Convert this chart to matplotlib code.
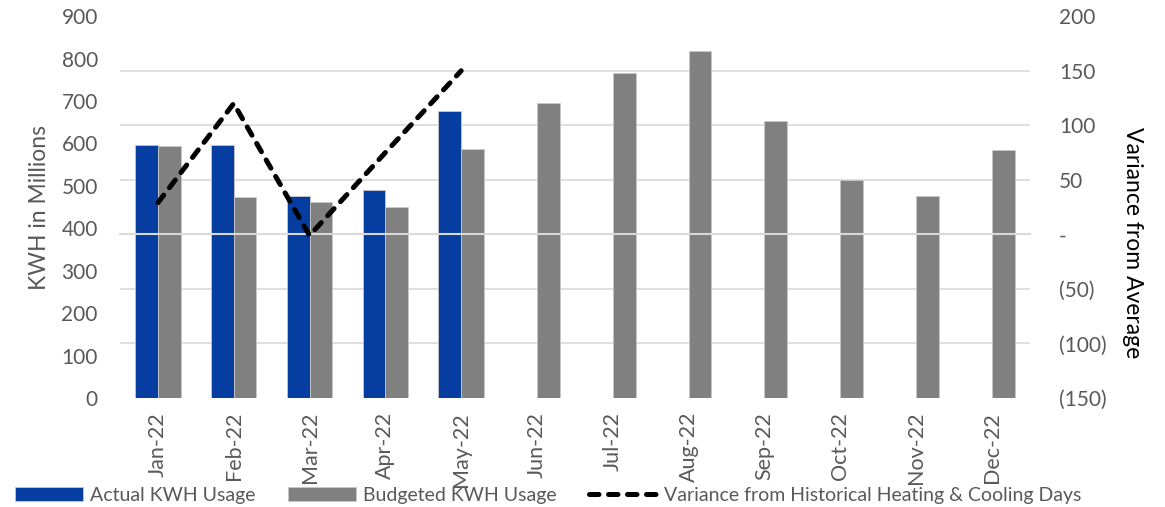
import numpy as np
import matplotlib.pyplot as plt
from matplotlib.ticker import FixedLocator, FuncFormatter

# data
months = ["Jan-22", "Feb-22", "Mar-22", "Apr-22", "May-22", "Jun-22",
          "Jul-22", "Aug-22", "Sep-22", "Oct-22", "Nov-22", "Dec-22"]
actual_kwh = [597, 596, 477, 490, 676]
budget_kwh = [594, 473, 463, 450, 586, 696, 766, 817, 652, 514, 477, 584]
variance = [29, 120, -1, 75, 150]

blue = "#063DA1"
gray = "#808080"
txt = "#595959"

plt.rcParams["font.family"] = ["Lato", "DejaVu Sans"]

fig, ax = plt.subplots(figsize=(11.65, 5.07), dpi=100)
fig.subplots_adjust(left=0.103, right=0.884, top=0.968, bottom=0.215)

x = np.arange(len(months))
w = 0.3
ax.bar(x[:len(actual_kwh)] - w / 2, actual_kwh, w, color=blue,
       edgecolor="#c8c8c8", linewidth=0.6, label="Actual KWH Usage", zorder=2)
ax.bar(x + w / 2, budget_kwh, w, color=gray,
       edgecolor="#c8c8c8", linewidth=0.6, label="Budgeted KWH Usage", zorder=2)

ax.set_xlim(-0.5, len(months) - 0.5)
ax.set_ylim(0, 900)
ax.set_yticks(np.arange(0, 901, 100))
ax.tick_params(axis="y", length=0, pad=16, labelsize=15, labelcolor=txt)
ax.set_xticks(x)
ax.set_xticklabels(months, rotation=90)
ax.tick_params(axis="x", length=0, pad=10, labelsize=15.5, labelcolor=txt)
# gridlines follow the secondary axis steps
ax.yaxis.set_minor_locator(FixedLocator(np.linspace(0, 900, 8)))
ax.tick_params(axis="y", which="minor", length=0)
ax.grid(axis="y", which="minor", color="#d9d9d9", linewidth=1.2, zorder=0)
ax.set_axisbelow(True)
for s in ax.spines.values():
    s.set_visible(False)
ax.set_ylabel("KWH in Millions", fontsize=16.5, color=txt, va="center")
ax.yaxis.set_label_coords(-0.088, 0.5)

ax2 = ax.twinx()
ax2.plot(x[:len(variance)], variance, color="black", linewidth=3.6,
         linestyle=(0, (1.9, 1.9)), dash_capstyle="round",
         label="Variance from Historical Heating & Cooling Days", zorder=4)
ax2.set_ylim(-150, 200)
ax2.set_yticks(np.arange(-150, 201, 50))


def fmt(v, pos):
    if v == 0:
        return "-"
    if v < 0:
        return f"({abs(int(v))})"
    return f"{int(v)}"


ax2.yaxis.set_major_formatter(FuncFormatter(fmt))
ax2.tick_params(axis="y", length=0, pad=21, labelsize=15, labelcolor=txt)
for side in ["top", "left", "right"]:
    ax2.spines[side].set_visible(False)
ax2.spines["bottom"].set_position(("data", 0))
ax2.spines["bottom"].set_color("#d9d9d9")
ax2.spines["bottom"].set_linewidth(1.5)
ax2.xaxis.set_minor_locator(FixedLocator(np.arange(-0.5, len(months), 1.0)))
ax2.tick_params(axis="x", which="minor", length=5, width=1.2, color="#d9d9d9",
                direction="out")
ax2.tick_params(axis="x", which="major", length=0, labelbottom=False)
ax.tick_params(axis="x", which="minor", length=0)
ax2.set_ylabel("Variance from Average", fontsize=16.5, color="black",
               rotation=-90, va="center", ha="center")
ax2.yaxis.set_label_coords(1.113, 0.408)

h1, l1 = ax.get_legend_handles_labels()
h2, l2 = ax2.get_legend_handles_labels()
fig.legend(h1 + h2, l1 + l2, loc="lower left", bbox_to_anchor=(0.013, 0.006),
           ncol=3, frameon=False, handlelength=3.5, handleheight=0.72,
           columnspacing=1.65, handletextpad=0.36, borderpad=0, borderaxespad=0,
           fontsize=14, labelcolor=txt)

fig.savefig("out.png", dpi=100)
